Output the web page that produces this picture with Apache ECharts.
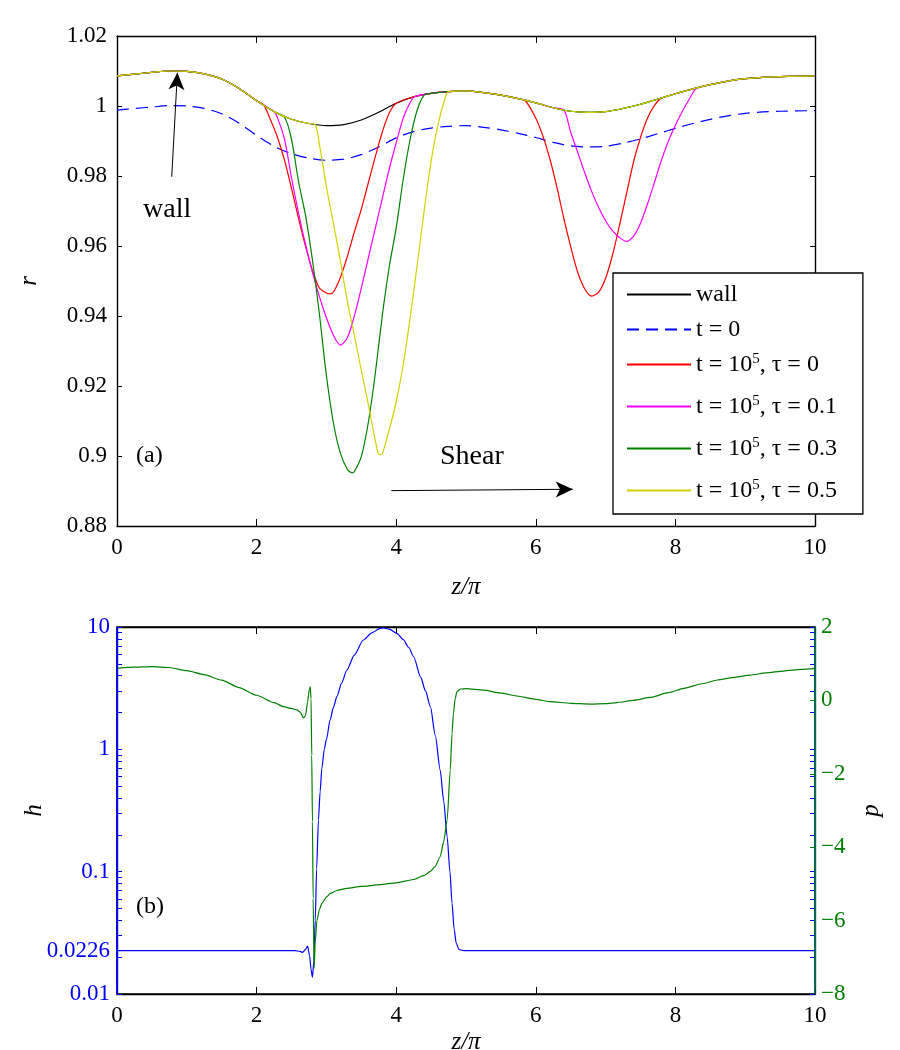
<!DOCTYPE html>
<html>
<head>
<meta charset="utf-8">
<script src="https://cdn.jsdelivr.net/npm/echarts@6/dist/echarts.min.js"></script>
<style>
  html, body { margin: 0; padding: 0; background: #fff; }
  #chart { width: 900px; height: 1050px; }
</style>
</head>
<body>
<div id="chart"></div>
<script>
// ---- panel (a): r against z/pi ----
const zWall = [0, 0.25, 0.5, 0.75, 1, 1.25, 1.5, 1.75, 2, 2.25, 2.5, 2.75, 3, 3.25, 3.5, 3.75, 4, 4.25, 4.5, 4.75,
  5, 5.25, 5.5, 5.75, 6, 6.25, 6.5, 6.75, 7, 7.25, 7.5, 7.75, 8, 8.25, 8.5, 8.75, 9, 9.25, 9.5, 9.75, 10];
const rWall = [1.0086, 1.0091, 1.0096, 1.0100, 1.0099, 1.0092, 1.0077, 1.0050, 1.0015, 0.9984, 0.9962, 0.9950,
  0.9944, 0.9947, 0.9960, 0.9982, 1.0008, 1.0026, 1.0036, 1.0041, 1.0043, 1.0038, 1.0031, 1.0021, 1.0009,
  0.9995, 0.9985, 0.9982, 0.9984, 0.9993, 1.0005, 1.0020, 1.0035, 1.0049, 1.0061, 1.0071, 1.0078, 1.0082,
  1.0084, 1.0085, 1.0086];
const rInit = [0.9988, 0.9993, 0.9997, 1.0001, 1.0000, 0.9993, 0.9978, 0.9951, 0.9916, 0.9885, 0.9864, 0.9851,
  0.9845, 0.9848, 0.9861, 0.9883, 0.9909, 0.9927, 0.9937, 0.9942, 0.9944, 0.9939, 0.9932, 0.9922, 0.9910,
  0.9896, 0.9886, 0.9883, 0.9885, 0.9894, 0.9906, 0.9921, 0.9936, 0.9950, 0.9962, 0.9972, 0.9979, 0.9983,
  0.9985, 0.9986, 0.9987];

// dips of the t = 1e5 profiles; outside them the profiles lie on the wall
const redDip1 = [[2.1, 1.0003], [2.2, 0.9960], [2.3, 0.9910], [2.4, 0.9845], [2.5, 0.9765], [2.6, 0.9680],
  [2.7, 0.9600], [2.8, 0.9530], [2.9, 0.9480], [3.0, 0.9466], [3.05, 0.9463], [3.1, 0.9468], [3.2, 0.9510],
  [3.3, 0.9570], [3.4, 0.9640], [3.5, 0.9705], [3.6, 0.9780], [3.7, 0.9855], [3.8, 0.9925], [3.9, 0.9980],
  [4.0, 1.0008]];
const redDip2 = [[5.85, 1.0015], [6.0, 0.9965], [6.1, 0.9915], [6.2, 0.9850], [6.3, 0.9770], [6.4, 0.9680],
  [6.5, 0.9598], [6.6, 0.9525], [6.7, 0.9478], [6.8, 0.9457], [6.9, 0.9468], [7.0, 0.9508], [7.1, 0.9575],
  [7.2, 0.9660], [7.3, 0.9750], [7.4, 0.9840], [7.5, 0.9910], [7.6, 0.9965], [7.7, 1.0002], [7.8, 1.0022]];
const magDip1 = [[2.25, 0.9984], [2.3, 0.9966], [2.4, 0.9905], [2.5, 0.9795], [2.6, 0.9695], [2.7, 0.9605],
  [2.8, 0.9525], [2.9, 0.9455], [3.0, 0.9395], [3.1, 0.9345], [3.2, 0.9317], [3.3, 0.9338], [3.4, 0.9400],
  [3.5, 0.9480], [3.6, 0.9565], [3.7, 0.9650], [3.8, 0.9735], [3.9, 0.9820], [4.0, 0.9895], [4.1, 0.9965],
  [4.2, 1.0010], [4.27, 1.0027]];
const magDip2 = [[6.4, 0.9989], [6.5, 0.9925], [6.6, 0.9868], [6.7, 0.9810], [6.8, 0.9756], [6.9, 0.9710],
  [7.0, 0.9672], [7.1, 0.9643], [7.2, 0.9624], [7.3, 0.9613], [7.4, 0.9628], [7.5, 0.9665], [7.6, 0.9720],
  [7.7, 0.9782], [7.8, 0.9845], [7.9, 0.9900], [8.0, 0.9945], [8.1, 0.9985], [8.2, 1.0020], [8.3, 1.0050]];
const grnDip1 = [[2.4, 0.9968], [2.5, 0.9905], [2.6, 0.9785], [2.7, 0.9688], [2.8, 0.9560], [2.9, 0.9405],
  [3.0, 0.9230], [3.1, 0.9095], [3.2, 0.9008], [3.3, 0.8962], [3.37, 0.8952], [3.4, 0.8955], [3.5, 0.8998],
  [3.6, 0.9095], [3.7, 0.9235], [3.8, 0.9400], [3.9, 0.9540], [4.0, 0.9652], [4.1, 0.9790], [4.2, 0.9905],
  [4.3, 0.9988], [4.4, 1.0031]];
const yelDip1 = [[2.84, 0.9947], [2.9, 0.9890], [3.0, 0.9770], [3.1, 0.9665], [3.2, 0.9558], [3.3, 0.9442],
  [3.4, 0.9345], [3.5, 0.9245], [3.6, 0.9148], [3.7, 0.9045], [3.76, 0.9003], [3.8, 0.9006], [3.9, 0.9075],
  [4.0, 0.9155], [4.1, 0.9260], [4.2, 0.9395], [4.3, 0.9545], [4.4, 0.9700], [4.5, 0.9842], [4.6, 0.9948],
  [4.7, 1.0022], [4.75, 1.0041]];

// ---- panel (b): h (log, left) and p (right) ----
const zH = [0, 1, 2, 2.55, 2.62, 2.66, 2.70, 2.73, 2.76, 2.78, 2.80, 2.82, 2.84, 2.86, 2.886, 2.91, 2.935, 2.97,
  3.0, 3.054, 3.1, 3.15, 3.22, 3.293, 3.4, 3.53, 3.65, 3.77, 3.82, 3.9, 4.01, 4.1, 4.18, 4.25, 4.35, 4.42,
  4.49, 4.56, 4.63, 4.68, 4.73, 4.77, 4.80, 4.83, 4.86, 4.9, 4.95, 5, 6, 8, 10];
const hVals = [0.0226, 0.0226, 0.0226, 0.0226, 0.0223, 0.0219, 0.0232, 0.0246, 0.0205, 0.0158, 0.0137, 0.0185,
  0.0402, 0.105, 0.264, 0.45, 0.70, 1.0, 1.2, 1.74, 2.2, 2.7, 3.5, 4.45, 5.9, 7.83, 8.95, 9.75, 9.85,
  9.6, 8.88, 7.9, 6.8, 5.71, 3.9, 3.0, 2.23, 1.3, 0.678, 0.38, 0.193, 0.1, 0.055, 0.034, 0.026, 0.0231,
  0.0227, 0.0226, 0.0226, 0.0226, 0.0226];
const zP = [0, 0.25, 0.5, 0.75, 1, 1.25, 1.5, 1.75, 2, 2.25, 2.385, 2.5, 2.58, 2.63, 2.67, 2.70, 2.73, 2.755,
  2.768, 2.78, 2.79, 2.80, 2.81, 2.824, 2.84, 2.863, 2.9, 2.935, 3.0, 3.054, 3.15, 3.293, 3.5, 3.77, 4.0,
  4.25, 4.4, 4.49, 4.56, 4.63, 4.68, 4.73, 4.774, 4.80, 4.82, 4.845, 4.87, 4.92, 5, 5.25, 5.5, 5.73, 6,
  6.21, 6.5, 6.78, 7, 7.16, 7.4, 7.64, 7.9, 8.12, 8.4, 8.6, 8.85, 9.075, 9.3, 9.55, 9.8, 10];
const pVals = [0.875, 0.905, 0.918, 0.897, 0.81, 0.70, 0.55, 0.35, 0.14, -0.06, -0.17, -0.22, -0.26, -0.33,
  -0.48, -0.42, -0.05, 0.30, 0.37, 0.05, -1.5, -3.3, -5.4, -7.3, -6.6, -6.0, -5.7, -5.53, -5.36, -5.26,
  -5.18, -5.12, -5.07, -5.02, -4.97, -4.88, -4.77, -4.66, -4.52, -4.26, -3.85, -3.26, -1.9, -0.9, -0.35,
  0.05, 0.24, 0.31, 0.32, 0.28, 0.20, 0.12, 0.03, -0.035, -0.08, -0.10, -0.09, -0.06, 0.0, 0.08, 0.21,
  0.33, 0.46, 0.556, 0.63, 0.69, 0.75, 0.80, 0.845, 0.875];

const hLabels = [0.01, 0.0226, 0.1, 1, 10];
const hMinor = [0.02, 0.03, 0.04, 0.05, 0.06, 0.07, 0.08, 0.09, 0.2, 0.3, 0.4, 0.5, 0.6, 0.7, 0.8, 0.9,
  2, 3, 4, 5, 6, 7, 8, 9];

const names = ['wall', 't = 0', 't = 10^5, τ = 0', 't = 10^5, τ = 0.1', 't = 10^5, τ = 0.3', 't = 10^5, τ = 0.5'];
const colors = ['#000000', '#0000ff', '#ff0000', '#ff00ff', '#008000', '#d2d200'];

const serif = 'Liberation Serif';
const pairs = (xs, ys) => xs.map((x, i) => [x, ys[i]]);
const wallPts = pairs(zWall, rWall);

function withDips(dips) {
  let pts = wallPts.slice();
  dips.forEach(d => {
    const a = d[0][0], b = d[d.length - 1][0];
    pts = pts.filter(p => p[0] < a || p[0] > b).concat(d);
  });
  return pts.sort((p, q) => p[0] - q[0]);
}

const nameStyle = { fontFamily: serif, fontStyle: 'italic', fontSize: 25, color: '#000' };

function xAx(grid, pos, labels, name, gap) {
  return {
    type: 'value', gridIndex: grid, position: pos, min: 0, max: 10, interval: 2,
    name: name, nameLocation: 'middle', nameGap: gap, nameMoveOverlap: false,
    nameTextStyle: nameStyle,
    axisLine: { show: true, onZero: false, lineStyle: { color: '#000', width: 1.4 } },
    axisTick: { show: true, inside: true, length: 7, lineStyle: { color: '#000', width: 1 } },
    axisLabel: { show: labels, fontFamily: serif, fontSize: 23, color: '#000', margin: 10 },
    splitLine: { show: false }
  };
}

const chart = echarts.init(document.getElementById('chart'), null, { renderer: 'canvas' });

const topSeries = [
  { data: wallPts },
  { data: pairs(zWall, rInit), dash: [12, 7] },
  { data: withDips([redDip1, redDip2]) },
  { data: withDips([magDip1, magDip2]) },
  { data: withDips([grnDip1]) },
  { data: withDips([yelDip1]) }
].map((s, i) => ({
  name: names[i], type: 'line', xAxisIndex: 0, yAxisIndex: 0, data: s.data,
  showSymbol: false, symbol: 'none', smooth: 0.3, z: 2 + i,
  lineStyle: { color: colors[i], width: 1.2, type: s.dash || 'solid' },
  itemStyle: { color: colors[i] }
}));

// annotation arrows, in data coordinates of panel (a)
topSeries[0].markLine = {
  silent: true, symbol: ['none', 'arrow'], symbolSize: [12, 17], animation: false,
  lineStyle: { color: '#000', width: 1, type: 'solid' }, label: { show: false },
  data: [
    [{ coord: [0.784, 0.9798] }, { coord: [0.865, 1.0095] }],
    [{ coord: [3.93, 0.8901] }, { coord: [6.53, 0.8905] }]
  ]
};

const option = {
  backgroundColor: '#fff',
  animation: false,
  grid: [
    { left: 117, top: 36, width: 698, height: 490, outerBoundsMode: 'none' },
    { left: 117, top: 627, width: 698, height: 367, outerBoundsMode: 'none',
      show: true, borderColor: '#000', borderWidth: 1.4, backgroundColor: 'transparent' }
  ],
  xAxis: [
    xAx(0, 'bottom', true, 'z/π', 49),
    xAx(0, 'top', false, '', 0),
    xAx(1, 'bottom', true, 'z/π', 36),
    xAx(1, 'top', false, '', 0)
  ],
  yAxis: [
    {
      type: 'value', gridIndex: 0, position: 'left', min: 0.88, max: 1.02, interval: 0.02,
      name: 'r', nameLocation: 'middle', nameGap: 75, nameRotate: 90, nameMoveOverlap: false,
      nameTextStyle: nameStyle,
      axisLine: { show: true, onZero: false, lineStyle: { color: '#000', width: 1.4 } },
      axisTick: { inside: true, length: 5, lineStyle: { color: '#000' } },
      axisLabel: { fontFamily: serif, fontSize: 23, color: '#000', margin: 10,
        formatter: v => String(+(+v).toFixed(2)) },
      splitLine: { show: false }
    },
    {
      type: 'value', gridIndex: 0, position: 'right', min: 0.88, max: 1.02, interval: 0.02,
      axisLine: { show: true, onZero: false, lineStyle: { color: '#000', width: 1.4 } },
      axisTick: { inside: true, length: 5, lineStyle: { color: '#000' } },
      axisLabel: { show: false }, splitLine: { show: false }
    },
    {
      type: 'log', logBase: 10, gridIndex: 1, position: 'left', min: 0.01, max: 10,
      name: 'h', nameLocation: 'middle', nameGap: 70, nameRotate: 90, nameMoveOverlap: false,
      nameTextStyle: nameStyle,
      axisLine: { show: true, onZero: false, lineStyle: { color: '#0000ff', width: 1.4 } },
      axisTick: { inside: true, length: 5, lineStyle: { color: '#0000ff' },
        customValues: hLabels.concat(hMinor) },
      axisLabel: { fontFamily: serif, fontSize: 23, color: '#0000ff', margin: 7,
        customValues: hLabels, formatter: v => String(+(+v).toPrecision(3)) },
      splitLine: { show: false }
    },
    {
      type: 'value', gridIndex: 1, position: 'right', min: -8, max: 2, interval: 2,
      name: 'p', nameLocation: 'middle', nameGap: 44, nameRotate: 90, nameMoveOverlap: false,
      nameTextStyle: nameStyle,
      axisLine: { show: true, onZero: false, lineStyle: { color: '#007a3a', width: 1.4 } },
      axisTick: { inside: true, length: 5, lineStyle: { color: '#008000' } },
      axisLabel: { fontFamily: serif, fontSize: 23, color: '#008000', margin: 6,
        formatter: v => String(v).replace('-', '\u2212') },
      splitLine: { show: false }
    },
    {
      type: 'log', logBase: 10, gridIndex: 1, position: 'right', min: 0.01, max: 10,
      axisLine: { show: false, onZero: false },
      axisTick: { inside: true, length: 5, lineStyle: { color: '#0000ff' },
        customValues: hLabels.concat(hMinor) },
      axisLabel: { show: false }, splitLine: { show: false }
    }
  ],
  legend: {
    orient: 'vertical', left: 613, top: 273, padding: [9, 26, 4, 13],
    itemGap: 10, itemWidth: 64, itemHeight: 25,
    backgroundColor: '#fff', borderColor: '#000', borderWidth: 1.3, borderRadius: 0,
    itemStyle: { opacity: 0 },
    data: names,
    formatter: n => n.replace('^5', '{sup|5}'),
    textStyle: {
      fontFamily: serif, fontSize: 24, color: '#000', lineHeight: 25,
      rich: { sup: { fontFamily: serif, fontSize: 15, lineHeight: 15, verticalAlign: 'top', padding: [0, 0, 17, 0] } }
    }
  },
  graphic: [
    { type: 'text', left: 143, top: 196, style: { text: 'wall', font: '28px "Liberation Serif"', fill: '#000' } },
    { type: 'text', left: 440, top: 443, style: { text: 'Shear', font: '28px "Liberation Serif"', fill: '#000' } },
    { type: 'text', left: 136, top: 444, style: { text: '(a)', font: '24px "Liberation Serif"', fill: '#000' } },
    { type: 'text', left: 136, top: 895, style: { text: '(b)', font: '24px "Liberation Serif"', fill: '#000' } }
  ],
  series: topSeries.concat([
    {
      name: 'h', type: 'line', xAxisIndex: 2, yAxisIndex: 2, data: pairs(zH, hVals),
      showSymbol: false, symbol: 'none', smooth: 0.25, smoothMonotone: 'x',
      lineStyle: { color: '#0000ff', width: 1.2 },
      // coloured side spines of panel (b): blue for h on the left, green-blue for p on the right
      markLine: {
        silent: true, symbol: ['none', 'none'], animation: false, label: { show: false },
        data: [
          { xAxis: 0, lineStyle: { color: '#0000ff', width: 1.5, type: 'solid' } },
          { xAxis: 10, lineStyle: { color: '#006a5a', width: 1.5, type: 'solid' } }
        ]
      }
    },
    {
      name: 'p', type: 'line', xAxisIndex: 2, yAxisIndex: 3, data: pairs(zP, pVals),
      showSymbol: false, symbol: 'none', smooth: 0.2, smoothMonotone: 'x',
      lineStyle: { color: '#008000', width: 1.2 }
    }
  ])
};

chart.setOption(option);
</script>
</body>
</html>
